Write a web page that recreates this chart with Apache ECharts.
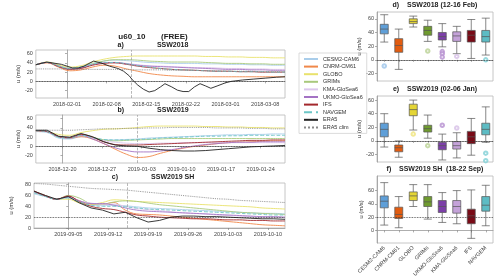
<!DOCTYPE html>
<html><head><meta charset="utf-8">
<script src="https://cdn.jsdelivr.net/npm/echarts@6/dist/echarts.min.js"></script>
<style>html,body{margin:0;padding:0;background:#fff}#c{width:500px;height:280px}</style>
</head><body><div id="c"></div>
<script>
// ---------- data ----------
const lineModels = ['CESM2-CAM6','CNRM-CM61','GLOBO','GRIMs','KMA-GloSea6','UKMO-GloSea6','IFS','NAVGEM','ERA5','ERA5 clim'];
const lineColors = ['#a9cdea','#f0884a','#e9e26c','#a9c97c','#dcc6ec','#a473c4','#a3282c','#6cc6c6','#222222','#8a8a8a'];
const lineTypes  = ['solid','solid','solid','solid','solid','solid','solid','dashed','solid','dotted'];

// panel a : days relative to 2018-02-01
const labelsA = ['2018-02-01','2018-02-08','2018-02-15','2018-02-22','2018-03-01','2018-03-08'];
const daysA = [-5.5,-3.5,-1.5,0.5,2.5,4.5,6.5,8.5,10.5,12.5,14.5,16.5,18.5,20.5,22.5,24.5,26.5,28.5,30.5,32.5,34.5,36.5,38.5];
const a_CESM2  = [36,41,34,29,32,39,44,46,45,43,41,40,39,39,39,38,38,37,37,36,36,35,35];
const a_CNRM   = [36,40,31,23,25,31,35,33,27,22,17,14,12,11,10,10,10,10,10,10,10,10,10];
const a_GLOBO  = [36,42,36,31,34,42,48,52,54,55,55,55,55,55,55,54,54,53,53,52,52,51,51];
const a_GRIMs  = [36,41,34,28,31,38,44,47,47,46,44,43,42,42,42,41,40,39,39,38,38,37,37];
const a_KMA    = [36,41,33,28,30,36,40,41,39,36,34,33,32,31,30,30,29,28,28,27,27,26,26];
const a_UKMO   = [36,41,33,27,29,36,40,41,38,35,33,32,31,30,29,28,27,26,26,25,25,24,24];
const a_IFS    = [36,41,32,26,28,35,39,40,37,33,30,28,26,25,24,23,22,22,21,21,20,20,20];
const a_NAVGEM = [36,41,33,28,31,37,41,41,38,34,31,28,26,25,24,23,22,22,21,21,21,20,20];
const a_clim   = [27,27,27,27,26,26,26,26,26,25,25,25,24,24,24,23,23,22,22,22,21,21,21];
const a_eraDays = [-5.5,-3.6,-1,1,2,3,4.7,6,7.5,9,10,11,11.5,12.5,13.5,14.5,15.5,16.5,17.3,18.5,19.5,20.5,21.5,22.5,23.5,24.5,25.4,26.5,28,29,31,33,35,37,38.5];
const a_ERA5   = [36,42,37,29,29,33,44,40,33,28,22,12,4,-8,-17,-23,-20,-12,-5,-12,-19,-22,-22,-12,-5,-10,-15,-10,-3,0,3,5,7,9,10];

// panel b : days relative to 2018-12-20
const labelsB = ['2018-12-20','2018-12-27','2019-01-03','2019-01-10','2019-01-17','2019-01-24'];
const daysB = [-4.7,-2.7,-0.7,1.3,3.3,5.3,7.3,9.3,11.3,13.3,15.3,17.3,19.3,21.3,23.3,25.3,27.3,29.3,31.3,33.3,35.3,37.3,39.3];
const b_CESM2  = [32,30,18,16,21,18,14,14,15,16,18,19,20,21,22,23,24,25,25,26,26,27,27];
const b_CNRM   = [34,32,22,18,21,16,6,-6,-17,-24,-22,-15,-9,-4,0,3,6,8,9,10,11,12,12];
const b_GLOBO  = [34,32,26,24,30,34,37,38,39,41,43,44,44,44,44,43,43,42,42,41,41,40,40];
const b_GRIMs  = [34,32,21,19,25,20,14,12,13,14,15,16,17,17,17,17,17,17,17,17,17,17,17];
const b_KMA    = [34,32,21,19,24,18,12,9,7,6,6,7,7,8,8,8,8,8,8,8,8,8,8];
const b_UKMO   = [34,32,21,18,24,16,6,-3,-9,-12,-12,-10,-7,-3,1,4,6,8,9,9,10,10,10];
const b_IFS    = [34,32,21,19,26,20,10,4,3,3,4,5,6,7,8,9,10,11,12,13,13,14,14];
const b_NAVGEM = [34,32,20,18,24,19,15,14,14,15,16,18,19,20,21,22,22,23,23,24,24,24,24];
const b_ERA5   = [35,35,22,20,28,21,10,3,1,0,-4,-7,-9,-10,-10,-9,-7,-5,-3,-1,0,1,2];
const b_clim   = [35,35,35,35,36,37,38,38,39,39,40,40,41,41,41,41,40,40,40,39,39,38,38];

// panel c : days relative to 2019-09-05
const labelsC = ['2019-09-05','2019-09-12','2019-09-19','2019-09-26','2019-10-03','2019-10-10'];
const daysC = [-6,-4,-2,0,2,4,6,8,10,12,14,16,18,20,22,24,26,28,30,32,34,36,38];
const c_CESM2  = [63,58,53,55,47,42,42,42,41,39,37,36,35,34,33,32,31,30,29,28,27,27,26];
const c_CNRM   = [68,60,53,58,50,44,44,47,33,26,25,24,22,20,18,16,14,12,10,8,6,5,4];
const c_GLOBO  = [66,59,53,53,46,44,47,52,51,49,48,47,46,45,44,43,42,41,40,39,37,36,35];
const c_GRIMs  = [66,59,53,60,55,45,44,48,50,49,46,43,41,39,37,35,33,31,29,28,27,26,25];
const c_KMA    = [66,59,53,57,50,46,44,44,40,36,34,32,30,28,27,26,24,23,22,21,20,20,19];
const c_UKMO   = [67,59,53,58,50,45,45,42,37,33,31,30,29,28,27,26,25,24,23,22,21,21,20];
const c_IFS    = [68,59,53,59,48,40,36,34,29,24,22,20,19,18,17,17,16,15,15,14,14,13,13];
const c_NAVGEM = [65,58,53,56,48,42,40,40,39,37,35,34,33,32,31,30,29,28,27,26,25,24,24];
const c_ERA5   = [68,60,53,58,46,37,33,26,29,19,11,14,20,22,22,21,21,20,19,18,17,17,16];
const c_clim   = [82,81,79,77,75,73,72,71,70,68,66,64,62,60,58,56,54,53,51,50,49,48,47];

// box plots
const boxCats = ['CESM2-CAM6','CNRM-CM61','GLOBO','GRIMs','UKMO-GloSea6','KMA-GloSea6','IFS','NAVGEM'];
const boxColors = ['#5f9fd8','#e25c10','#e4d535','#6f9b2f','#7c3fa8','#c4a2d9','#790a16','#5dbcc4'];
const outColors = ['#9cc4ea','#f3a070','#efe37a','#b9d193','#b58fd0','#d6bfe6','#b05058','#7fd0d6'];
const boxD = [[26,38,45,52,66],[-14,11,21,31,45],[48,53,56,60,64],[27,36,43,49,58],[19,29,34,40,53],[9,27,35,41,49],[2,26,36,43,59],[7,26,34,43,61]];
const outD = [[0,-9],[3,13],[4,12],[4,9],[4,4],[5,5],[7,0]];
const boxE = [[-9,6,17,26,40],[-24,-16,-10,-6,0],[16,37,46,54,60],[4,13,18,23,38],[-28,-13,-7,-2,10],[-25,-12,-7,-1,12],[-21,-4,6,14,33],[-2,9,17,26,50]];
const outE = [[2,10],[3,-7],[4,23],[5,19],[7,-18],[7,-29]];
const boxF = [[8,34,44,52,72],[4,18,24,35,51],[36,45,52,58,69],[17,36,43,51,69],[12,27,36,45,57],[10,26,36,45,60],[-12,10,22,32,61],[7,29,38,51,68]];
const outF = [];
const yTicks = [-20,0,20,40,60];
const yTicksC = [0,20,40,60,80];
const yTicksF = [0,20,40,60];

// ---------- chart ----------
const chart = echarts.init(document.getElementById('c'), null, {renderer:'canvas'});
const FONT = 'Liberation Sans, Arial, sans-serif';
const lineGrids = [
  {left:22, top:50, width:263, height:48},
  {left:22, top:115, width:263, height:48},
  {left:22, top:183, width:263, height:45}
];
const boxGrids = [
  {left:377, top:12, width:116, height:69},
  {left:377, top:96, width:116, height:66},
  {left:377, top:176, width:116, height:67}
];
const grids = lineGrids.concat(boxGrids).map(g => Object.assign({show:true, borderColor:'#b8b8b8', borderWidth:0.8, backgroundColor:'transparent'}, g));

const axisLbl = {fontSize:5.5, color:'#444', fontFamily:FONT, margin:3};
const tickStyle = {show:true, length:2, lineStyle:{color:'#777', width:0.6}};
const axLine = {show:true, lineStyle:{color:'#999', width:0.8}};

const lineX = [
  {labels:labelsA, min:-5.5, max:38.5},
  {labels:labelsB, min:-4.7, max:39.3},
  {labels:labelsC, min:-6, max:38}
];
const xAxes = [], yAxes = [];
lineX.forEach((p,i) => {
  xAxes.push({type:'value', gridIndex:i, min:p.min, max:p.max, splitLine:{show:false},
    axisLine:axLine, axisTick:Object.assign({customValues:[0,7,14,21,28,35]}, tickStyle),
    axisLabel:Object.assign({customValues:[0,7,14,21,28,35], formatter:v => p.labels[Math.round(v/7)]}, axisLbl)});
});
yAxes.push({type:'value', gridIndex:0, min:-36, max:68});
yAxes.push({type:'value', gridIndex:1, min:-36, max:68});
yAxes.push({type:'value', gridIndex:2, min:0, max:83});
[0,1,2].forEach(i => {
  const t = i === 2 ? yTicksC : yTicks;
  Object.assign(yAxes[i], {splitLine:{show:false}, axisLine:axLine,
    axisTick:Object.assign({customValues:t}, tickStyle),
    axisLabel:Object.assign({customValues:t}, axisLbl),
    name:'u (m/s)', nameLocation:'middle', nameGap:11, nameRotate:90,
    nameTextStyle:{fontSize:6, color:'#333', fontFamily:FONT}});
});
const boxRanges = [[-31,70],[-31,66],[-19,82]];
[0,1,2].forEach(j => {
  const gi = 3 + j;
  xAxes.push({type:'category', gridIndex:gi, data:boxCats, boundaryGap:true,
    axisLine:axLine, axisTick:{show:true, alignWithLabel:true, length:2, lineStyle:{color:'#777', width:0.6}},
    axisLabel:Object.assign({show:j===2, rotate:45, interval:0}, axisLbl, {margin:4})});
  const t = j === 2 ? yTicksF : yTicks;
  yAxes.push({type:'value', gridIndex:gi, min:boxRanges[j][0], max:boxRanges[j][1], splitLine:{show:false},
    axisLine:axLine, axisTick:Object.assign({customValues:t}, tickStyle),
    axisLabel:Object.assign({customValues:t}, axisLbl),
    name:'u (m/s)', nameLocation:'middle', nameGap:13, nameRotate:90,
    nameTextStyle:{fontSize:6, color:'#333', fontFamily:FONT}});
});

const panelData = [
  {days:daysA, vals:[a_CESM2,a_CNRM,a_GLOBO,a_GRIMs,a_KMA,a_UKMO,a_IFS,a_NAVGEM,null,a_clim], era:[a_eraDays,a_ERA5], vline:11.3, hline:0},
  {days:daysB, vals:[b_CESM2,b_CNRM,b_GLOBO,b_GRIMs,b_KMA,b_UKMO,b_IFS,b_NAVGEM,null,b_clim], era:[daysB,b_ERA5], vline:13.2, hline:0},
  {days:daysC, vals:[c_CESM2,c_CNRM,c_GLOBO,c_GRIMs,c_KMA,c_UKMO,c_IFS,c_NAVGEM,null,c_clim], era:[daysC,c_ERA5], vline:10.4, hline:20}
];
const series = [];
panelData.forEach((p,pi) => {
  lineModels.forEach((m,mi) => {
    let data;
    if (m === 'ERA5') data = p.era[0].map((d,k) => [d, p.era[1][k]]);
    else data = p.days.map((d,k) => [d, p.vals[mi][k]]);
    const s = {type:'line', name:m, xAxisIndex:pi, yAxisIndex:pi, data:data,
      symbol:'none', smooth: m === 'ERA5' ? false : 0.4, silent:true,
      z: m === 'ERA5' ? 5 : 3,
      lineStyle:{color:lineColors[mi], width:0.9, type:lineTypes[mi]},
      itemStyle:{color:lineColors[mi]}};
    if (m === 'ERA5 clim') {
      s.markLine = {silent:true, symbol:'none', label:{show:false},
        data:[
          {xAxis:p.vline, lineStyle:{color:'#999', type:'dashed', width:0.7}},
          {yAxis:p.hline, lineStyle:{color:'#333', type:'dotted', width:0.8}}
        ]};
    }
    series.push(s);
  });
});
const boxSets = [[boxD,outD,0],[boxE,outE,0],[boxF,outF,20]];
boxSets.forEach((b,j) => {
  const gi = 3 + j;
  series.push({type:'boxplot', xAxisIndex:gi, yAxisIndex:gi, boxWidth:[8,8], silent:true,
    data:b[0].map((v,k) => ({value:v, itemStyle:{color:boxColors[k], borderColor:'#555', borderWidth:0.7}})),
    markLine:{silent:true, symbol:'none', label:{show:false},
      data:[{yAxis:b[2], lineStyle:{color:'#333', type:'dotted', width:0.8}}]}});
  series.push({type:'scatter', xAxisIndex:gi, yAxisIndex:gi, symbol:'emptyCircle', symbolSize:3.5, silent:true,
    data:b[1].map(o => ({value:[o[0], o[1]], itemStyle:{color:outColors[o[0]], borderColor:outColors[o[0]]}}))});
});

const titleFont = 'bold 7px ' + FONT;
chart.setOption({
  animation:false,
  grid:grids, xAxis:xAxes, yAxis:yAxes, series:series,
  legend:{data:lineModels, orient:'vertical', left:299, top:53, itemWidth:14, itemHeight:5, itemGap:1.6,
    padding:[3,4,3,4], borderColor:'#cccccc', borderWidth:0.7,
    itemStyle:{opacity:0},
    textStyle:{fontSize:5.5, color:'#333', fontFamily:FONT}},
  graphic:[
    {type:'text', x:153, y:33, style:{text:'u60_10       (FREE)', font:'bold 8px '+FONT, fill:'#222', textAlign:'center'}},
    {type:'text', x:153, y:42, style:{text:'a)                 SSW2018', font:titleFont, fill:'#222', textAlign:'center'}},
    {type:'text', x:153, y:107, style:{text:'b)                 SSW2019', font:titleFont, fill:'#222', textAlign:'center'}},
    {type:'text', x:153, y:174, style:{text:'c)                 SSW2019 SH', font:titleFont, fill:'#222', textAlign:'center'}},
    {type:'text', x:435, y:2, style:{text:'d)    SSW2018 (12-16 Feb)', font:titleFont, fill:'#222', textAlign:'center'}},
    {type:'text', x:435, y:86, style:{text:'e)    SSW2019 (02-06 Jan)', font:titleFont, fill:'#222', textAlign:'center'}},
    {type:'text', x:435, y:166, style:{text:'f)    SSW2019 SH  (18-22 Sep)', font:titleFont, fill:'#222', textAlign:'center'}}
  ]
});
</script></body></html>
